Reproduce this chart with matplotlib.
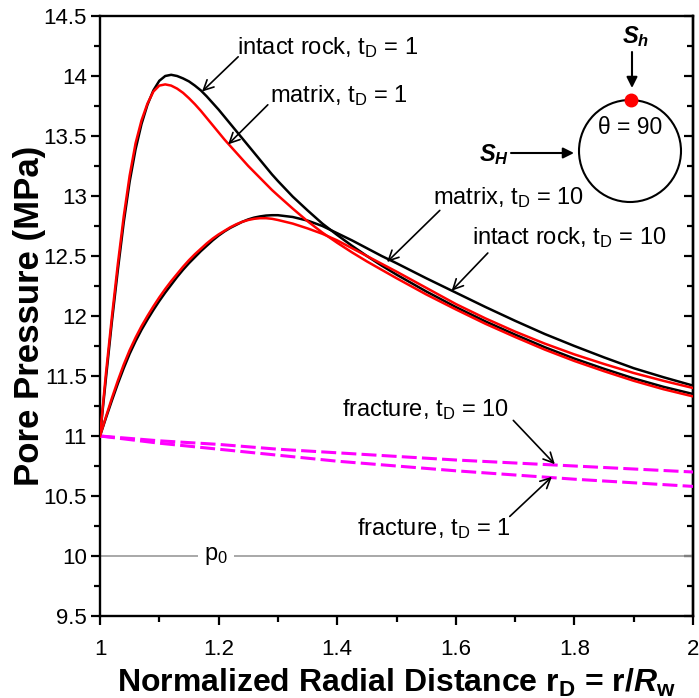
import matplotlib.pyplot as plt
from matplotlib.patches import Circle
from matplotlib.ticker import MultipleLocator, FuncFormatter

plt.rcParams['font.family'] = ['Liberation Sans', 'DejaVu Sans']
plt.rcParams['mathtext.fontset'] = 'custom'
plt.rcParams['mathtext.rm'] = 'Liberation Sans'
plt.rcParams['mathtext.it'] = 'Liberation Sans:italic'
plt.rcParams['mathtext.bf'] = 'Liberation Sans:bold'
plt.rcParams['mathtext.bfit'] = 'Liberation Sans:italic:bold'

# normalized radial distance r_D = r/R_w
r_d = [1.00, 1.01, 1.02, 1.03, 1.04, 1.05, 1.06, 1.07, 1.08, 1.09,
       1.10, 1.11, 1.12, 1.13, 1.14, 1.15, 1.16, 1.17, 1.18, 1.19,
       1.20, 1.21, 1.22, 1.23, 1.24, 1.25, 1.26, 1.27, 1.28, 1.29,
       1.30, 1.325, 1.35, 1.375, 1.40, 1.425, 1.45, 1.475, 1.50,
       1.55, 1.60, 1.65, 1.70, 1.75, 1.80, 1.85, 1.90, 1.95, 2.00]

# pore pressure (MPa) at theta = 90
p_intact_1 = [11.00, 11.48, 11.95, 12.38, 12.78, 13.12, 13.39, 13.60, 13.76, 13.88,
              13.96, 14.00, 14.01, 14.00, 13.98, 13.955, 13.92, 13.88, 13.83, 13.775,
              13.72, 13.66, 13.60, 13.54, 13.48, 13.42, 13.36, 13.30, 13.24, 13.18,
              13.125, 12.995, 12.88, 12.77, 12.675, 12.585, 12.50, 12.42, 12.345,
              12.205, 12.075, 11.955, 11.845, 11.74, 11.645, 11.56, 11.48, 11.41, 11.35]
p_matrix_1 = [11.00, 11.52, 11.99, 12.43, 12.83, 13.17, 13.44, 13.63, 13.77, 13.87,
              13.92, 13.93, 13.92, 13.895, 13.86, 13.815, 13.765, 13.71, 13.65, 13.59,
              13.53, 13.47, 13.415, 13.36, 13.305, 13.25, 13.20, 13.15, 13.10, 13.05,
              13.005, 12.895, 12.79, 12.695, 12.61, 12.53, 12.455, 12.385, 12.315,
              12.18, 12.055, 11.935, 11.825, 11.72, 11.625, 11.54, 11.46, 11.39, 11.33]
p_intact_10 = [11.00, 11.15, 11.295, 11.435, 11.565, 11.685, 11.79, 11.885, 11.97, 12.05,
               12.125, 12.195, 12.26, 12.325, 12.385, 12.44, 12.49, 12.54, 12.585, 12.63,
               12.67, 12.705, 12.735, 12.76, 12.785, 12.805, 12.82, 12.83, 12.837, 12.84,
               12.84, 12.825, 12.795, 12.75, 12.69, 12.63, 12.565, 12.50, 12.44,
               12.315, 12.195, 12.075, 11.96, 11.85, 11.75, 11.655, 11.565, 11.49, 11.42]
p_matrix_10 = [11.00, 11.16, 11.315, 11.46, 11.595, 11.715, 11.82, 11.915, 12.00, 12.08,
               12.155, 12.225, 12.29, 12.35, 12.41, 12.465, 12.515, 12.56, 12.605, 12.645,
               12.68, 12.71, 12.74, 12.765, 12.785, 12.80, 12.81, 12.815, 12.815, 12.81,
               12.80, 12.77, 12.73, 12.685, 12.63, 12.565, 12.50, 12.435, 12.37,
               12.235, 12.10, 11.98, 11.87, 11.77, 11.68, 11.60, 11.525, 11.46, 11.40]

r_frac = [1.0, 1.1, 1.2, 1.3, 1.4, 1.5, 1.6, 1.7, 1.8, 1.9, 2.0]
p_frac_10 = [11.00, 10.96, 10.93, 10.89, 10.86, 10.83, 10.80, 10.775, 10.75, 10.725, 10.70]
p_frac_1 = [11.00, 10.94, 10.89, 10.84, 10.79, 10.75, 10.71, 10.675, 10.64, 10.61, 10.58]

p0 = 10.0

fig = plt.figure(figsize=(6.99, 6.98), dpi=100)
ax = fig.add_axes([100/699, 1 - 616/698, 593/699, 600/698])

ax.axhline(p0, color='#999999', lw=1.2, zorder=1)
ax.text(1.196, p0, 'p$_0$', ha='center', va='center', fontsize=17,
        bbox=dict(boxstyle='square,pad=0.25', fc='white', ec='none'), zorder=2)

ax.plot(r_d, p_intact_1, color='black', lw=1.8, zorder=3)
ax.plot(r_d, p_intact_10, color='black', lw=1.8, zorder=3)
ax.plot(r_d, p_matrix_1, color='red', lw=1.8, zorder=4)
ax.plot(r_d, p_matrix_10, color='red', lw=1.8, zorder=4)
ax.plot(r_frac, p_frac_10, color='#ff00ff', lw=2.2, dashes=(4.9, 1.7), zorder=3)
ax.plot(r_frac, p_frac_1, color='#ff00ff', lw=2.2, dashes=(4.9, 1.7), zorder=3)

ax.set_xlim(1, 2)
ax.set_ylim(9.5, 14.5)
ax.xaxis.set_major_locator(MultipleLocator(0.2))
ax.xaxis.set_minor_locator(MultipleLocator(0.1))
ax.yaxis.set_major_locator(MultipleLocator(0.5))
ax.yaxis.set_minor_locator(MultipleLocator(0.25))
fmt = FuncFormatter(lambda v, pos: '%g' % round(v, 2))
ax.xaxis.set_major_formatter(fmt)
ax.yaxis.set_major_formatter(fmt)
ax.tick_params(which='both', direction='out', width=1.6, labelsize=16)
ax.tick_params(which='major', length=6.5)
ax.tick_params(which='minor', length=4)
ax.tick_params(axis='x', pad=10)
ax.tick_params(axis='y', pad=3)
for s in ax.spines.values():
    s.set_linewidth(1.7)

# right-hand ticks point inward
sec = ax.secondary_yaxis('right')
sec.yaxis.set_major_locator(MultipleLocator(0.5))
sec.yaxis.set_minor_locator(MultipleLocator(0.25))
sec.tick_params(which='both', direction='in', width=1.6, labelright=False)
sec.tick_params(which='major', length=6.5)
sec.tick_params(which='minor', length=4)
sec.spines['right'].set_linewidth(1.7)

ax.set_xlabel(r'Normalized Radial Distance r$_\mathbf{D}$ = r/$\mathbfit{R}_\mathbf{w}$',
              fontsize=23, fontweight='bold', labelpad=5)
ax.set_ylabel('Pore Pressure (MPa)', fontsize=25, fontweight='bold', labelpad=-2)

# curve labels: (text, text position, arrow tail, arrow tip)
labels = [
    ('intact rock, t$_\\mathrm{D}$ = 1', (1.231, 14.24), (1.233, 14.16), (1.172, 13.87)),
    ('matrix, t$_\\mathrm{D}$ = 1', (1.287, 13.84), (1.283, 13.76), (1.216, 13.43)),
    ('matrix, t$_\\mathrm{D}$ = 10', (1.561, 12.99), (1.573, 12.88), (1.484, 12.45)),
    ('intact rock, t$_\\mathrm{D}$ = 10', (1.627, 12.65), (1.654, 12.525), (1.593, 12.21)),
    ('fracture, t$_\\mathrm{D}$ = 10', (1.408, 11.22), (1.697, 11.13), (1.767, 10.765)),
    ('fracture, t$_\\mathrm{D}$ = 1', (1.433, 10.23), (1.691, 10.33), (1.762, 10.66)),
]
for txt, tpos, tail, tip in labels:
    ax.text(tpos[0], tpos[1], txt, fontsize=17, ha='left', va='center', zorder=5)
    ax.annotate('', xy=tip, xytext=tail,
                arrowprops=dict(arrowstyle='->', color='black', lw=1.2,
                                mutation_scale=18, shrinkA=0, shrinkB=0), zorder=5)

# borehole sketch, laid out in pixel units
ins = fig.add_axes([470/699, 1 - 215/698, 229/699, 195/698])
ins.set_xlim(470, 699)
ins.set_ylim(215, 20)
ins.axis('off')
ins.patch.set_alpha(0)
ins.add_patch(Circle((630, 151), 51, fill=False, lw=1.5, ec='black'))
ins.plot([631], [100], 'o', color='red', ms=9, zorder=5)
ins.text(630, 128, '\u03b8 = 90', fontsize=16.5, ha='center', va='center')
ins.text(636, 37, r'$\mathbfit{S}_\mathbfit{h}$', fontsize=17, ha='center', va='center')
ins.annotate('', xy=(632, 88), xytext=(632, 52),
             arrowprops=dict(arrowstyle='-|>', color='black', lw=1.5,
                             mutation_scale=16, shrinkA=0, shrinkB=0))
ins.text(494, 155, r'$\mathbfit{S}_\mathbfit{H}$', fontsize=17, ha='center', va='center')
ins.annotate('', xy=(574, 153), xytext=(511, 153),
             arrowprops=dict(arrowstyle='-|>', color='black', lw=1.5,
                             mutation_scale=16, shrinkA=0, shrinkB=0))

fig.savefig('out.png', dpi=100)
